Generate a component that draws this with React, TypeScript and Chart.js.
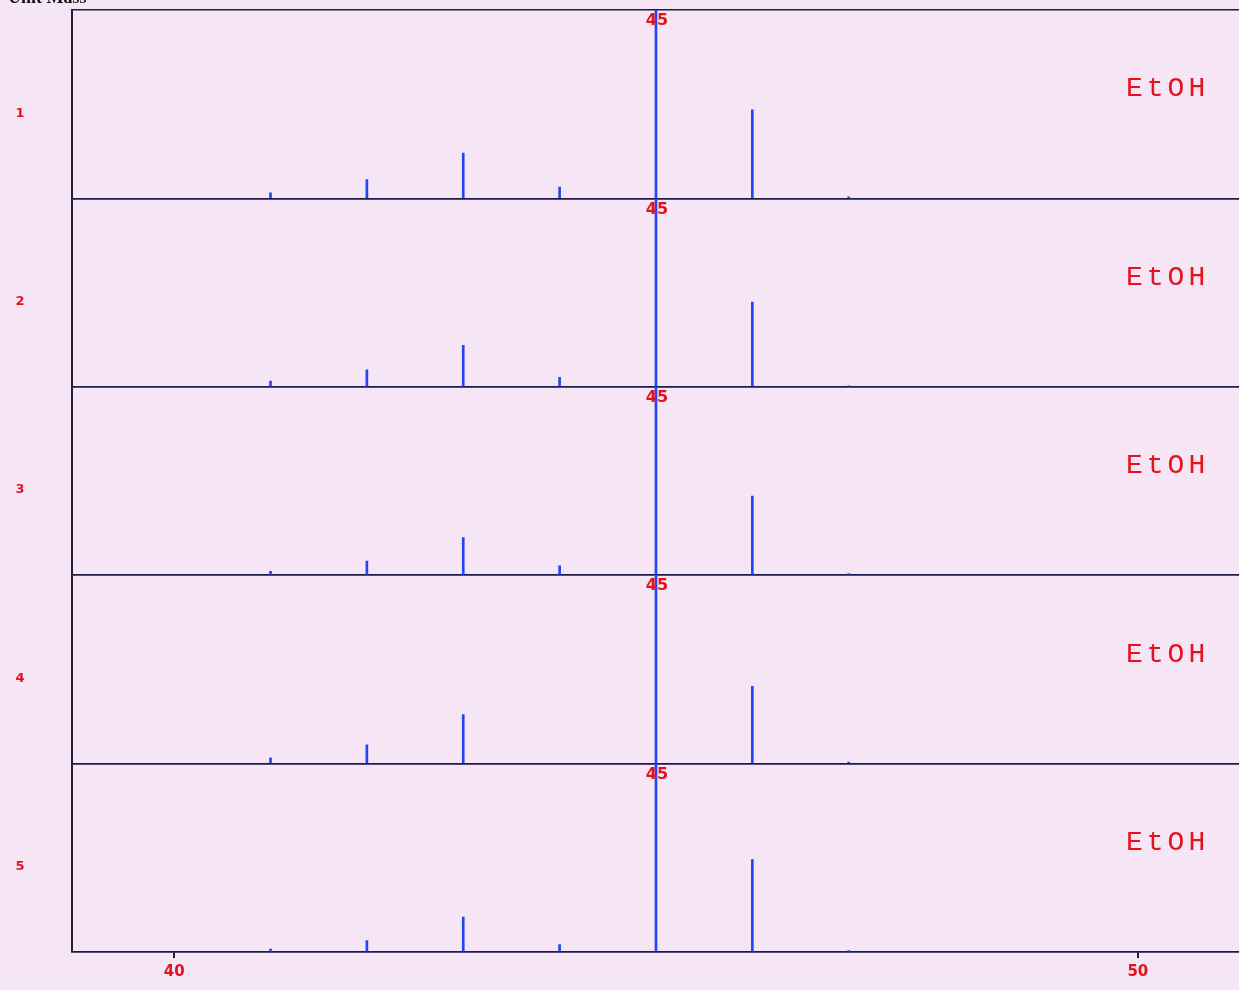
import React, { useEffect, useRef } from "react";
import { Chart, registerables } from "chart.js";

Chart.register(...registerables);

// m/z values of the peaks
const masses = [41, 42, 43, 44, 45, 46, 47];
// relative intensities (%) for each of the 5 runs
const run1 = [3, 10, 24, 6, 100, 47, 0.8];
const run2 = [3, 9, 22, 5, 100, 45, 0.5];
const run3 = [2, 7.5, 20, 5, 100, 42, 0.8];
const run4 = [3, 10, 26, 0, 100, 41, 0.8];
const run5 = [1.5, 6, 18.6, 4, 100, 49, 0.8];
const runs = [run1, run2, run3, run4, run5];
const runLabels = ["1", "2", "3", "4", "5"];
const compoundLabel = "EtOH";
const basePeak = 45;
const xTickValues = [40, 50];
const xMin = 38.94;
const xMax = 51.05;
const topText = "Unit Mass";

const BG = "#f5e5f5";
const AXIS = "#1c1c4e";
const PEAK = "#2446f0";
const RED = "#e5121c";

export default function App() {
  const ref = useRef<HTMLCanvasElement | null>(null);

  useEffect(() => {
    const canvas = ref.current;
    if (!canvas) return;

    const scales: any = {
      x: {
        type: "linear",
        position: "bottom",
        offset: false,
        min: xMin,
        max: xMax,
        afterBuildTicks: (s: any) => {
          s.ticks = xTickValues.map((v) => ({ value: v }));
        },
        afterFit: (s: any) => {
          s.height = 38;
        },
        ticks: {
          color: RED,
          font: { family: "DejaVu Sans", weight: "bold", size: 15 },
          padding: 5,
          maxRotation: 0,
          autoSkip: false,
          callback: (v: any) => String(v),
        },
        grid: {
          offset: false,
          drawOnChartArea: false,
          drawTicks: true,
          tickLength: 6,
          color: AXIS,
          lineWidth: 2,
        },
        border: { display: true, color: AXIS, width: 1.5 },
      },
    };

    runs.forEach((_, i) => {
      scales["y" + (i + 1)] = {
        type: "linear",
        position: "left",
        stack: "panels",
        stackWeight: 1,
        weight: runs.length - i,
        min: 0,
        max: 100,
        afterBuildTicks: (s: any) => {
          s.ticks = [{ value: 0 }, { value: 100 }];
        },
        afterFit: (s: any) => {
          s.width = 0;
        },
        ticks: { display: false },
        grid: {
          drawTicks: false,
          color: AXIS,
          lineWidth: 1.5,
        },
        border: { display: true, color: "#2a1a3e", width: 2 },
      };
    });

    const datasets = runs.map((run, i) => ({
      label: "Run " + runLabels[i],
      yAxisID: "y" + (i + 1),
      data: masses.map((m, j) => ({ x: m, y: run[j] })),
      backgroundColor: PEAK,
      borderWidth: 0,
      barThickness: 2,
      grouped: false,
    }));

    const textPlugin = {
      id: "panelText",
      beforeDraw(chart: any) {
        const c = chart.ctx;
        c.save();
        c.fillStyle = BG;
        c.fillRect(0, 0, chart.width, chart.height);
        c.restore();
      },
      afterDraw(chart: any) {
        const c = chart.ctx;
        const xs = chart.scales.x;
        c.save();
        runs.forEach((_, i) => {
          const ys = chart.scales["y" + (i + 1)];
          const top = ys.top;
          const bottom = ys.bottom;
          c.fillStyle = RED;
          c.font = "bold 16px 'DejaVu Sans'";
          c.textAlign = "center";
          c.textBaseline = "middle";
          c.fillText(String(basePeak), xs.getPixelForValue(basePeak) + 1, top + 11);
          c.font = "bold 13px 'DejaVu Sans'";
          c.fillText(runLabels[i], 20, (top + bottom) / 2 + 9);
          c.font = "28px 'Liberation Mono'";
          (c as any).letterSpacing = "4px";
          c.textAlign = "left";
          c.fillText(compoundLabel, chart.chartArea.right - 113, top + 79);
          (c as any).letterSpacing = "0px";
        });
        c.fillStyle = "#111";
        c.font = "bold 18px 'Liberation Serif'";
        c.textAlign = "left";
        c.textBaseline = "alphabetic";
        c.fillText(topText, 8, 3);
        c.restore();
      },
    };

    const chart = new Chart(canvas, {
      type: "bar",
      data: { datasets } as any,
      options: {
        responsive: false,
        animation: false,
        devicePixelRatio: 1,
        layout: { padding: { left: 72, top: 10, right: 0, bottom: 0 } },
        plugins: {
          legend: { display: false },
          tooltip: { enabled: false },
          title: { display: false },
        },
        scales,
      } as any,
      plugins: [textPlugin],
    });

    return () => chart.destroy();
  }, []);

  return (
    <canvas
      ref={ref}
      width={1239}
      height={990}
      style={{ position: "absolute", left: 0, top: 0, width: 1239, height: 990, display: "block" }}
    />
  );
}
